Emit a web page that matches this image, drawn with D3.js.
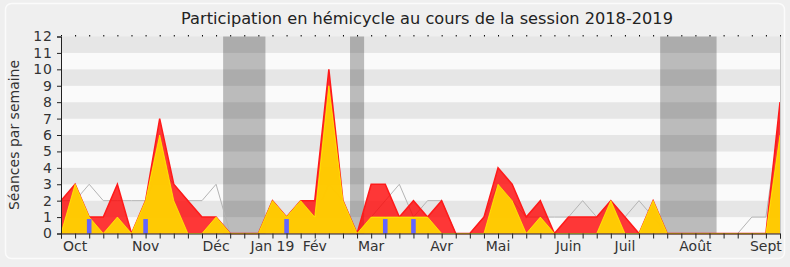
<!DOCTYPE html>
<html>
<head>
<meta charset="utf-8">
<script src="https://cdn.jsdelivr.net/npm/d3@7"></script>
<style>
  html, body { margin: 0; padding: 0; background: #efefef; }
  svg { display: block; font-family: "DejaVu Sans", Verdana, sans-serif; }
</style>
</head>
<body>
<svg id="chart" width="790" height="267"></svg>
<script>
// weekly values, one entry per week of the session (index 0 .. 51)
const presences = [2, 3, 1, 1, 3, 0, 2, 7, 3, 2, 1, 1, 0, 0, 0, 2, 1, 2, 2, 10, 2, 0, 3, 3, 1, 2,
                   1, 2, 0, 0, 1, 4, 3, 1, 2, 0, 1, 1, 1, 2, 1, 0, 2, 0, 0, 0, 0, 0, 0, 0, 0, 8];
const interventions = [0, 3, 1, 0, 1, 0, 2, 6, 2, 0, 0, 1, 0, 0, 0, 2, 1, 2, 1, 9, 2, 0, 1, 1, 1, 1,
                       1, 0, 0, 0, 0, 3, 2, 0, 1, 0, 0, 0, 0, 2, 0, 0, 2, 0, 0, 0, 0, 0, 0, 0, 0, 6];
const mediane = [2, 2, 3, 2, 2, 2, 2, 4, 3, 2, 2, 3, 0, 0, 0, 2, 1, 2, 1, 3, 2, 0, 1, 2, 3, 1,
                 2, 2, 0, 0, 1, 3, 2, 1, 1, 1, 1, 2, 1, 2, 1, 2, 1, 0, 0, 0, 0, 0, 0, 1, 1, 7];
// weeks with an oral question (bar height as read)
const questionWeeks = [2, 6, 16, 23, 25];
const questionValues = [0.88, 0.88, 0.88, 0.88, 0.88];
// parliamentary breaks, as [first week, last week]
const vacances = [[12, 14], [21, 21], [43, 46]];
// month labels and the week they sit on
const monthLabels = ["Oct", "Nov", "Déc", "Jan 19", "Fév", "Mar", "Avr", "Mai", "Juin", "Juil", "Août", "Sept"];
const monthWeeks = [1, 6, 11, 15, 18, 22, 27, 31, 36, 40, 45, 50];
const yTicks = [0, 1, 2, 3, 4, 5, 6, 7, 8, 9, 10, 11, 12];

const svg = d3.select("#chart");
const pLeft = 61, pRight = 780, pTop = 36.5, pBottom = 233.5;

const x = d3.scaleLinear().domain([0, presences.length - 1]).range([pLeft, pRight]);
const y = d3.scaleLinear().domain([0, 12]).range([pBottom, pTop]);

// outer panel
svg.append("rect")
   .attr("x", 5.5).attr("y", 3.5).attr("width", 779).attr("height", 255)
   .attr("rx", 6)
   .attr("fill", "none").attr("stroke", "#fbfbfb").attr("stroke-width", 1.5);

// horizontal bands
svg.append("g").selectAll("rect")
   .data(d3.range(0, 12))
   .enter().append("rect")
   .attr("x", pLeft).attr("width", pRight - pLeft)
   .attr("y", d => y(d + 1)).attr("height", d => y(d) - y(d + 1))
   .attr("fill", d => d % 2 === 1 ? "#e6e6e6" : "#fafafa");

// breaks
svg.append("g").selectAll("rect")
   .data(vacances)
   .enter().append("rect")
   .attr("x", d => x(d[0] - 0.5)).attr("width", d => x(d[1] + 0.5) - x(d[0] - 0.5))
   .attr("y", pTop).attr("height", pBottom - pTop)
   .attr("fill", "#000").attr("fill-opacity", 0.25);

// median line
const line = d3.line().x((d, i) => x(i)).y(d => y(d));
svg.append("path")
   .attr("d", line(mediane))
   .attr("fill", "none").attr("stroke", "#b4b4b4").attr("stroke-width", 1);

const area = d3.area().x((d, i) => x(i)).y0(y(0)).y1(d => y(d));

// presences
svg.append("path")
   .attr("d", area(presences))
   .attr("fill", "#ff0000").attr("fill-opacity", 0.78);
svg.append("path")
   .attr("d", line(presences))
   .attr("fill", "none").attr("stroke", "#ff1a1a").attr("stroke-width", 1.5);

// interventions
svg.append("path")
   .attr("d", area(interventions))
   .attr("fill", "#ffd200").attr("fill-opacity", 0.95);
svg.append("path")
   .attr("d", line(interventions))
   .attr("fill", "none").attr("stroke", "#ffff00").attr("stroke-width", 1).attr("stroke-opacity", 0.7);

// oral questions
svg.append("g").selectAll("rect")
   .data(questionWeeks)
   .enter().append("rect")
   .attr("x", d => x(d) - 2.3).attr("width", 4.6)
   .attr("y", (d, i) => y(questionValues[i]))
   .attr("height", (d, i) => y(0) - y(questionValues[i]))
   .attr("fill", "#6464ff");

// right edge
svg.append("line")
   .attr("x1", pRight + 0.5).attr("x2", pRight + 0.5).attr("y1", pTop).attr("y2", pBottom)
   .attr("stroke", "#c8c8c8");

// y axis
const yAxis = d3.axisLeft(y).tickValues(yTicks).tickSize(4).tickPadding(4);
const gy = svg.append("g").attr("transform", "translate(" + pLeft + ",0)").call(yAxis);
gy.select(".domain").attr("stroke", "#222");
gy.selectAll(".tick line").attr("stroke", "#222");
gy.selectAll("text").attr("font-size", 14).attr("letter-spacing", 1).attr("fill", "#333").attr("font-family", "DejaVu Sans");

// x axis, weekly ticks
const weeks = d3.range(0, presences.length);
const xAxis = d3.axisBottom(x).tickValues(weeks).tickSize(5).tickFormat("");
const gx = svg.append("g").attr("transform", "translate(0," + pBottom + ")").call(xAxis);
gx.select(".domain").attr("stroke", "#222");
gx.selectAll(".tick line").attr("stroke", "#222");

// tiny top ticks
const gt = svg.append("g").attr("transform", "translate(0," + pTop + ")")
   .call(d3.axisTop(x).tickValues(weeks).tickSize(1.5).tickFormat(""));
gt.select(".domain").remove();
gt.selectAll(".tick line").attr("stroke", "#000");

// month labels
svg.append("g").selectAll("text")
   .data(monthLabels)
   .enter().append("text")
   .attr("x", (d, i) => x(monthWeeks[i]))
   .attr("y", 251)
   .attr("text-anchor", "middle")
   .attr("font-size", 14)
   .attr("fill", "#333")
   .text(d => d);

// y label
svg.append("text")
   .attr("transform", "translate(19," + ((pTop + pBottom) / 2) + ") rotate(-90)")
   .attr("text-anchor", "middle")
   .attr("font-size", 14)
   .attr("fill", "#333")
   .text("Séances par semaine");

// title
svg.append("text")
   .attr("x", 427).attr("y", 24)
   .attr("text-anchor", "middle")
   .attr("font-size", 16.2)
   .attr("fill", "#222")
   .text("Participation en hémicycle au cours de la session 2018-2019");
</script>
</body>
</html>
